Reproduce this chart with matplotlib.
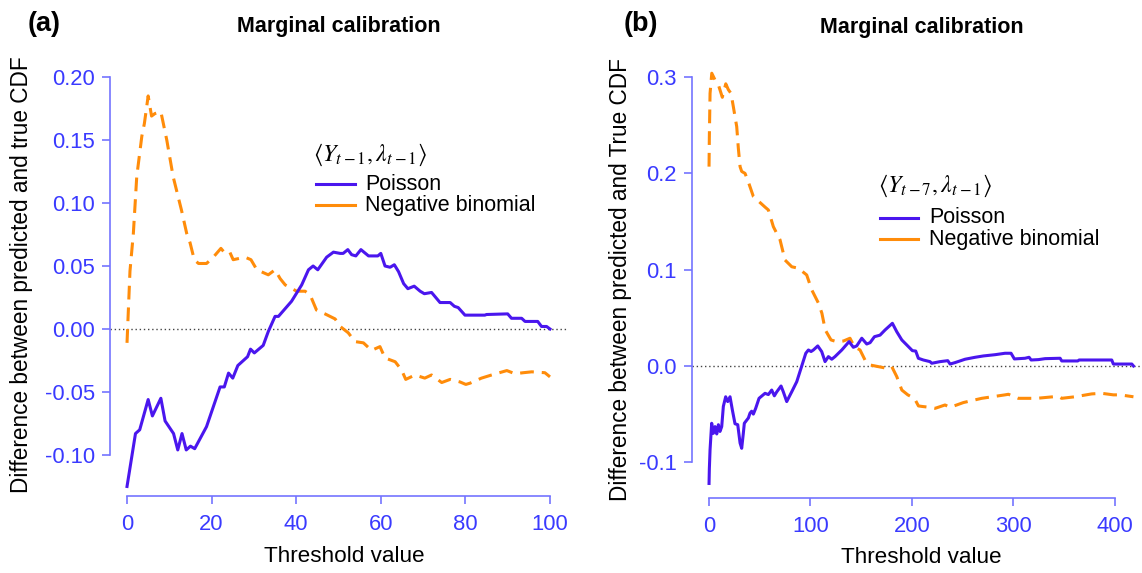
import matplotlib
matplotlib.use("Agg")
import matplotlib.pyplot as plt
from matplotlib.lines import Line2D
from matplotlib.ticker import FormatStrFormatter

plt.rcParams['font.family'] = ['Liberation Sans', 'DejaVu Sans']
plt.rcParams['mathtext.fontset'] = 'stix'
plt.rcParams['axes.unicode_minus'] = False

# ---------------- data ----------------
# Panel (a)
a_pois_x = [0, 2, 3, 5, 6, 8, 9, 11, 12, 13, 14, 15, 16, 18.8, 22, 23, 24, 25, 26.2, 28.5,
            29.2, 30.1, 32.2, 33.4, 35, 35.8, 38.9, 41.3, 42.9, 44, 45.1, 47.2, 48.8, 50.4,
            51.1, 52.2, 53.1, 54.1, 55.3, 57.1, 59.3, 60, 61, 62.2, 63.2, 64.2, 65.4, 66.4,
            67.9, 69.3, 70.3, 72, 74, 76.4, 77.4, 78.3, 79.9, 84.6, 85, 90, 90.9, 93.3, 94.1,
            97.1, 98, 99.2, 100]
a_pois_y = [-0.125, -0.083, -0.080, -0.056, -0.069, -0.055, -0.073, -0.083, -0.096, -0.083,
            -0.096, -0.093, -0.095, -0.0775, -0.046, -0.046, -0.035, -0.039, -0.029, -0.022,
            -0.016, -0.019, -0.013, -0.002, 0.010, 0.010, 0.022, 0.035, 0.047, 0.050, 0.047,
            0.057, 0.061, 0.060, 0.060, 0.063, 0.059, 0.058, 0.063, 0.058, 0.058, 0.060, 0.050,
            0.049, 0.051, 0.0455, 0.036, 0.032, 0.034, 0.030, 0.028, 0.029, 0.021, 0.021, 0.018,
            0.017, 0.011, 0.011, 0.0115, 0.012, 0.0085, 0.0085, 0.006, 0.006, 0.002, 0.002, 0.0]
a_nb_x = [0, 0.7, 1.5, 2.3, 3.5, 4.1, 5.0, 5.8, 6.6, 8.0, 9.4, 10.9, 12.9, 14.1, 14.9, 15.9,
          16.9, 18.8, 20.4, 22.2, 23.2, 24.3, 25.1, 27.9, 29.3, 30.7, 33.4, 35, 36.2, 37.4,
          40.1, 42.1, 43.3, 44.8, 46.8, 49.2, 50.4, 52.3, 53.9, 55.9, 57.8, 59.8, 61, 63.4,
          64.9, 65.9, 68.1, 70.4, 72, 74.4, 76.4, 78.7, 80.1, 81.1, 83.8, 86.2, 89.8, 91.7,
          93.7, 95.7, 98.8, 100]
a_nb_y = [-0.011, 0.046, 0.076, 0.121, 0.153, 0.163, 0.185, 0.169, 0.171, 0.1725, 0.150,
          0.121, 0.094, 0.076, 0.0685, 0.055, 0.052, 0.052, 0.057, 0.064, 0.060, 0.061, 0.055,
          0.057, 0.055, 0.047, 0.043, 0.047, 0.040, 0.035, 0.030, 0.030, 0.027, 0.015, 0.012,
          0.008, 0.002, -0.003, -0.010, -0.011, -0.017, -0.014, -0.023, -0.026, -0.0325,
          -0.040, -0.0365, -0.039, -0.0365, -0.0425, -0.040, -0.042, -0.044, -0.043, -0.039,
          -0.0365, -0.033, -0.0355, -0.0347, -0.034, -0.0347, -0.038]

# Panel (b)
b_pois_x = [0, 0.3, 1, 2.6, 4.2, 5.9, 7.6, 9.2, 10.8, 12.5, 14.1, 16.4, 18.4, 20.7, 23, 25.6,
            28.3, 30.6, 32.2, 33.8, 34.8, 38.8, 40.4, 42, 43.7, 46, 49.3, 55.2, 58.5, 61.8,
            64.4, 66.7, 71, 73.3, 76.6, 81.6, 86.5, 90.7, 95.4, 98, 100.6, 102.9, 107.2, 111.1,
            114.4, 117.7, 121, 124.2, 130.9, 138.1, 142.3, 145.6, 150.6, 155.5, 158.8, 163.1,
            168.6, 173.6, 180.8, 185.1, 190.1, 195, 200.5, 203.8, 206.4, 211.3, 217.9, 219.6,
            227.8, 235.4, 237.7, 242.6, 252.5, 262.3, 270.5, 282, 291.9, 297.8, 301.1, 311.6,
            315.6, 317.6, 324.8, 331.4, 346.2, 347.8, 363.6, 364.9, 397.1, 398.7, 416.9, 418.5]
b_pois_y = [-0.122, -0.107, -0.087, -0.0595, -0.070, -0.063, -0.0706, -0.061, -0.068, -0.063,
            -0.042, -0.032, -0.037, -0.032, -0.0457, -0.060, -0.061, -0.080, -0.0855, -0.070,
            -0.0595, -0.054, -0.049, -0.047, -0.050, -0.044, -0.0336, -0.0284, -0.0297, -0.025,
            -0.031, -0.027, -0.0208, -0.027, -0.037, -0.0267, -0.0163, -0.0024, 0.0132, 0.0166,
            0.015, 0.0166, 0.0208, 0.0149, 0.0045, 0.0097, 0.007, 0.0097, 0.0166, 0.0253,
            0.0194, 0.0208, 0.0288, 0.0228, 0.0242, 0.0304, 0.032, 0.0374, 0.0443, 0.0356,
            0.027, 0.0218, 0.0159, 0.0155, 0.008, 0.0062, 0.0045, 0.0028, 0.0045, 0.0055,
            0.002, 0.0035, 0.007, 0.009, 0.0104, 0.0117, 0.0132, 0.0132, 0.0073, 0.008,
            0.009, 0.0062, 0.0066, 0.0076, 0.008, 0.0052, 0.0052, 0.0062, 0.0062, 0.002,
            0.002, 0.0]
b_nb_x = [0, 0.3, 1, 2.7, 5.9, 9.2, 13.1, 16.5, 19, 21.7, 24, 27.3, 28.9, 30.6, 32.2, 35.5,
          38.8, 43.7, 55.2, 58.5, 63.4, 70, 74.9, 81.6, 88.1, 96.3, 101.3, 108, 111.3, 114.6,
          120.3, 126, 132.5, 139, 143.3, 148.9, 153.8, 158.8, 167, 175.2, 180.2, 185.1, 190.1,
          196, 202.5, 206.5, 209.8, 217.9, 222.9, 232.7, 237.7, 250.8, 268.9, 291.9, 295.2,
          305, 313.2, 323.1, 344.4, 347.7, 360.8, 377.4, 387.3, 398.7, 405.3, 418.5]
b_nb_y = [0.207, 0.238, 0.283, 0.304, 0.297, 0.292, 0.279, 0.293, 0.287, 0.283, 0.269,
          0.2485, 0.226, 0.207, 0.202, 0.200, 0.191, 0.176, 0.165, 0.162, 0.1447, 0.131,
          0.110, 0.103, 0.1015, 0.0945, 0.079, 0.065, 0.0547, 0.0374, 0.027, 0.0252, 0.0259,
          0.0288, 0.020, 0.0166, 0.0062, 0.001, -0.0007, -0.0024, -0.0007, -0.011, -0.025,
          -0.030, -0.0336, -0.0415, -0.042, -0.043, -0.044, -0.0405, -0.043, -0.038, -0.0336,
          -0.030, -0.0294, -0.0336, -0.0336, -0.0336, -0.0315, -0.0336, -0.032, -0.029,
          -0.0284, -0.030, -0.030, -0.032]

a_yticks = [-0.10, -0.05, 0.00, 0.05, 0.10, 0.15, 0.20]
a_xticks = [0, 20, 40, 60, 80, 100]
b_yticks = [-0.1, 0.0, 0.1, 0.2, 0.3]
b_xticks = [0, 100, 200, 300, 400]

series_labels = ["Poisson", "Negative binomial"]
titles = ["Marginal calibration", "Marginal calibration"]
panel_tags = ["(a)", "(b)"]
ylabels = ["Difference between predicted and true CDF",
           "Difference between predicted and True CDF"]
legend_titles = [r"$\langle Y_{t-1},\lambda_{t-1}\rangle$",
                 r"$\langle Y_{t-7},\lambda_{t-1}\rangle$"]

# ---------------- style ----------------
W, H = 1142, 573
POIS_C = "#4A16EE"
NB_C = "#FF8C0A"
AX_C = "#7474FF"
TICK_C = "#3A3AFF"
FS = 16

fig = plt.figure(figsize=(W / 100, H / 100), dpi=100)


def fx(px):
    return px / W


def fy(py):
    return 1 - py / H


def style_axes(ax, xticks, yticks, yfmt, xlab_pos, ylab_pos, ylabel, title, ttl_y):
    for s in ("top", "right"):
        ax.spines[s].set_visible(False)
    for s in ("left", "bottom"):
        ax.spines[s].set_color(AX_C)
        ax.spines[s].set_linewidth(1.2)
    ax.spines["left"].set_bounds(yticks[0], yticks[-1])
    ax.spines["bottom"].set_bounds(xticks[0], xticks[-1])
    ax.set_xticks(xticks)
    ax.set_yticks(yticks)
    ax.yaxis.set_major_formatter(FormatStrFormatter(yfmt))
    ax.tick_params(axis="both", colors=AX_C, labelcolor=TICK_C, labelsize=15.8,
                   length=6, width=1.2, direction="out")
    ax.tick_params(axis="y", pad=5)
    ax.tick_params(axis="x", pad=7)
    ax.set_xlabel("Threshold value", fontsize=16.2, va="center")
    ax.xaxis.set_label_coords(*xlab_pos)
    ax.set_ylabel(ylabel, fontsize=16.3, va="center")
    ax.yaxis.set_label_coords(*ylab_pos)
    ax.set_title(title, fontsize=15.5, fontweight="bold", y=ttl_y, pad=0, va="center")
    ax.axhline(0, color="#444444", lw=1.0, ls=(0, (1, 2)), zorder=1)


# Panel (a)
axa = fig.add_axes([fx(110.1), fy(496.3), fx(456.8), 435.4 / H])
axa.plot(a_pois_x, a_pois_y, color=POIS_C, lw=2.2, zorder=3, solid_joinstyle="round")
axa.plot(a_nb_x, a_nb_y, color=NB_C, lw=2.2, ls=(0, (4.5, 2.6)), zorder=2)
axa.set_xlim(-4, 104)
axa.set_ylim(-0.1328, 0.2128)
style_axes(axa, a_xticks, a_yticks, "%.2f", (0.512, -0.138), (-0.193, 0.509),
           ylabels[0], titles[0], (496.3 - 27) / 435.4)

# Panel (b)
axb = fig.add_axes([fx(691.8), fy(497.7), fx(460.4), 436.8 / H])
axb.plot(b_pois_x, b_pois_y, color=POIS_C, lw=2.2, zorder=3, solid_joinstyle="round")
axb.plot(b_nb_x, b_nb_y, color=NB_C, lw=2.2, ls=(0, (4.5, 2.6)), zorder=2)
axb.set_xlim(-17, 437)
axb.set_ylim(-0.1368, 0.3168)
style_axes(axb, b_xticks, b_yticks, "%.1f", (0.498, -0.137), (-0.155, 0.499),
           ylabels[1], titles[1], (497.7 - 27) / 436.8)

# Panel tags
fig.text(fx(44.5), fy(24), panel_tags[0], fontsize=19.5, fontweight="bold", ha="center", va="center")
fig.text(fx(641), fy(24), panel_tags[1], fontsize=19.5, fontweight="bold", ha="center", va="center")

# Legends (text boxes in the original figure)
legend_specs = [
    dict(title=legend_titles[0], tx=313, ty=155, lx0=316, lx1=355, ly=(184, 205), txt_x=365),
    dict(title=legend_titles[1], tx=878, ty=186, lx0=880, lx1=918, ly=(218, 239), txt_x=929),
]
for spec in legend_specs:
    fig.text(fx(spec["tx"]), fy(spec["ty"]), spec["title"], fontsize=17.3, ha="left", va="center")
    for lab, col, yy in zip(series_labels, (POIS_C, NB_C), spec["ly"]):
        fig.add_artist(Line2D([fx(spec["lx0"]), fx(spec["lx1"])], [fy(yy), fy(yy)],
                              transform=fig.transFigure, color=col, lw=2.2))
        fig.text(fx(spec["txt_x"]), fy(yy), lab, fontsize=15.5, ha="left", va="center")

fig.savefig("out.png", dpi=100)
